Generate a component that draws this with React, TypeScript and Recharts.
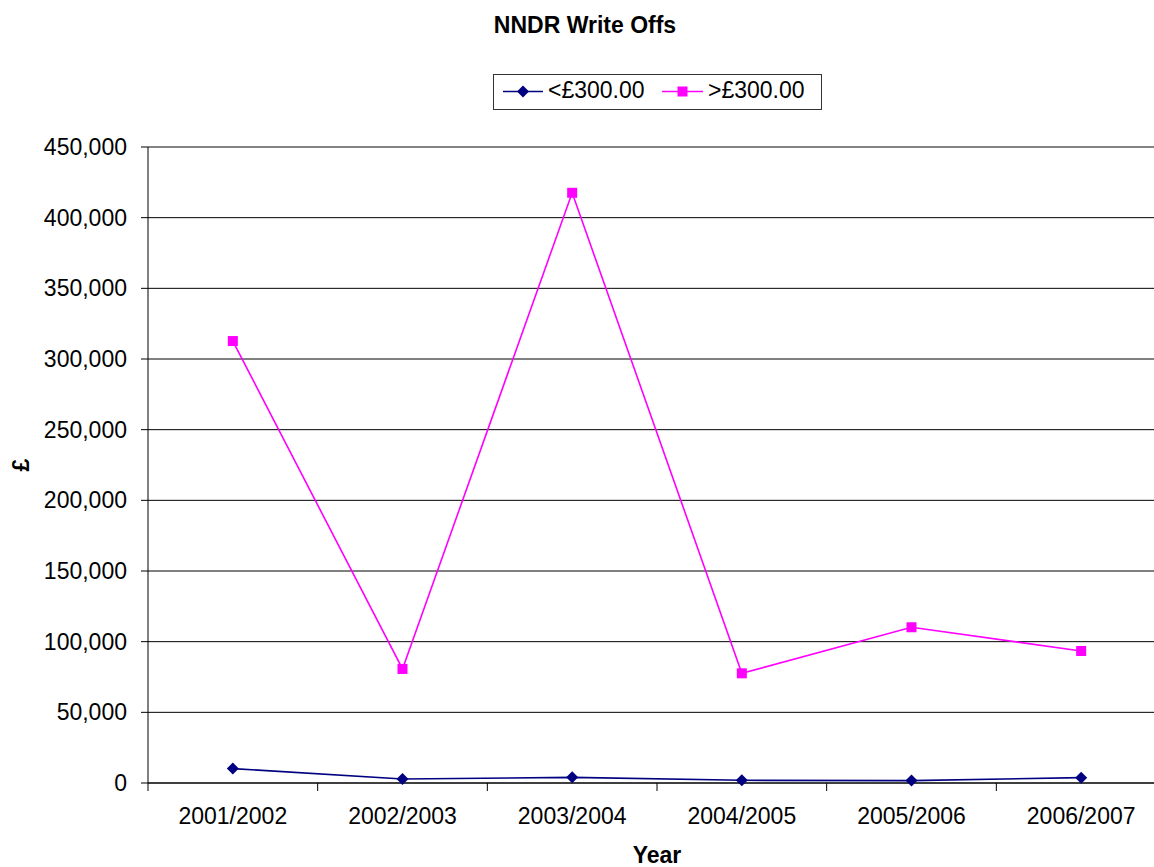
import { LineChart, Line, XAxis, YAxis, CartesianGrid, ReferenceLine } from 'recharts';

const years = ['2001/2002', '2002/2003', '2003/2004', '2004/2005', '2005/2006', '2006/2007'];
const under300 = [10200, 2800, 4000, 1900, 1700, 3800];
const over300 = [312700, 80700, 417600, 77600, 110200, 93400];
const yTicks = [0, 50000, 100000, 150000, 200000, 250000, 300000, 350000, 400000, 450000];

const BLUE = '#000080';
const PINK = '#FF00FF';
const FONT = '"Liberation Sans", Arial, sans-serif';

const data = years.map((year, i) => ({ year, under: under300[i], over: over300[i] }));

// plot area is 1018px wide (it runs past the right edge of the picture)
const PLOT_W = 1018;
const STEP = PLOT_W / years.length;

const Diamond = (props: any) => {
  const { cx, cy } = props;
  if (cx == null || cy == null) return null;
  const r = 6;
  return <path d={`M${cx},${cy - r}L${cx + r},${cy}L${cx},${cy + r}L${cx - r},${cy}Z`} fill={BLUE} />;
};

const Square = (props: any) => {
  const { cx, cy } = props;
  if (cx == null || cy == null) return null;
  return <rect x={cx - 5} y={cy - 5} width={10} height={10} fill={PINK} />;
};

const YearTick = (props: any) => {
  const { x, y, payload } = props;
  const bx = x - STEP / 2;
  return (
    <g>
      <line x1={bx} y1={y - 8} x2={bx} y2={y} stroke="#000" />
      <text x={x} y={y + 17} dy="0.71em" textAnchor="middle" fontSize={23} fontFamily={FONT} fill="#000">
        {payload.value}
      </text>
    </g>
  );
};

const PoundLabel = (props: any) => {
  const vb = props.viewBox || {};
  const cy = (vb.y ?? 147) + (vb.height ?? 636) / 2;
  return (
    <text
      x={21}
      y={cy}
      transform={`rotate(-90 21 ${cy})`}
      textAnchor="middle"
      dominantBaseline="central"
      fontSize={23}
      fontWeight="bold"
      fontFamily={FONT}
      fill="#000"
    >
      £
    </text>
  );
};

export default function App() {
  return (
    <div style={{ position: 'absolute', left: 0, top: 0, width: 1154, height: 867, overflow: 'hidden', background: '#fff' }}>
      <LineChart width={1166} height={867} data={data} margin={{ top: 147, right: 0, bottom: 0, left: 0 }}>
        <CartesianGrid vertical={false} stroke="#000" strokeOpacity={1} />
        <ReferenceLine y={450000} stroke="#888" />
        <XAxis
          dataKey="year"
          height={84}
          padding={{ left: STEP / 2, right: STEP / 2 }}
          axisLine={{ stroke: '#000' }}
          tickLine={false}
          tickSize={8}
          tickMargin={0}
          tick={<YearTick />}
          interval={0}
          label={{ value: 'Year', position: 'insideBottom', offset: 4, fontSize: 23, fontWeight: 'bold', fontFamily: FONT, fill: '#000' }}
        />
        <YAxis
          width={148}
          domain={[0, 450000]}
          ticks={yTicks}
          interval={0}
          axisLine={{ stroke: '#000' }}
          tickLine={{ stroke: '#000' }}
          tickSize={7}
          tickMargin={14}
          tick={{ fontSize: 23, fontFamily: FONT, fill: '#000' }}
          tickFormatter={(v: number) => v.toLocaleString('en-GB')}
          label={<PoundLabel />}
        />
        <Line dataKey="under" name="<£300.00" stroke={BLUE} strokeWidth={1.6} dot={<Diamond />} activeDot={false} isAnimationActive={false} />
        <Line dataKey="over" name=">£300.00" stroke={PINK} strokeWidth={1.6} dot={<Square />} activeDot={false} isAnimationActive={false} />
      </LineChart>
      <svg width={1154} height={867} style={{ position: 'absolute', left: 0, top: 0, pointerEvents: 'none' }}>
        <text x={585} y={33} textAnchor="middle" fontSize={23} fontWeight="bold" fontFamily={FONT} fill="#000">
          NNDR Write Offs
        </text>
        <rect x={493.5} y={74.5} width={328} height={35} fill="#fff" stroke="#333" />
        <line x1={503} y1={91.5} x2={543} y2={91.5} stroke={BLUE} strokeWidth={1.6} />
        <path d="M523,85.5L529,91.5L523,97.5L517,91.5Z" fill={BLUE} />
        <text x={548} y={97.5} fontSize={23} fontFamily={FONT} fill="#000">&lt;£300.00</text>
        <line x1={662} y1={91.5} x2={703} y2={91.5} stroke={PINK} strokeWidth={1.6} />
        <rect x={677.5} y={86.5} width={10} height={10} fill={PINK} />
        <text x={708} y={97.5} fontSize={23} fontFamily={FONT} fill="#000">&gt;£300.00</text>
      </svg>
    </div>
  );
}
